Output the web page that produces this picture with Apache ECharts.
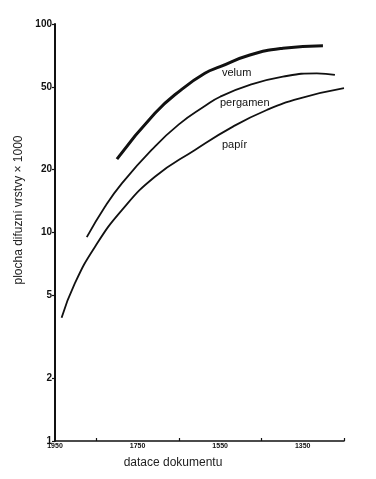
<!DOCTYPE html>
<html>
<head>
<meta charset="utf-8">
<script src="https://cdn.jsdelivr.net/npm/echarts@6/dist/echarts.min.js"></script>
<style>
  html, body { margin: 0; padding: 0; background: #fff; }
  #chart { width: 376px; height: 479px; }
</style>
</head>
<body>
<div id="chart"></div>
<script>
// datace dokumentu (years) and plocha difuzní vrstvy × 1000
const velumYears = [1800, 1708, 1643, 1587, 1550, 1478, 1398, 1301];
const velumValues = [22.5, 37.3, 48.6, 58.0, 62.4, 71.0, 76.5, 78.7];

const pergamenYears = [1873, 1829, 1788, 1716, 1650, 1587, 1550, 1478, 1398, 1316, 1272];
const pergamenValues = [9.5, 13.3, 17.2, 24.9, 33.0, 40.4, 44.8, 51.0, 55.9, 58.0, 57.0];

const papirYears = [1934, 1902, 1853, 1788, 1708, 1611, 1519, 1437, 1357, 1250];
const papirValues = [3.9, 5.7, 8.55, 12.8, 18.5, 24.9, 32.2, 38.7, 44.0, 49.2];

const yTicks = [1, 2, 5, 10, 20, 50, 100];
const xLabels = [1950, 1750, 1550, 1350];
const xTicks = [1850, 1650, 1450, 1250];

const seriesNames = ["velum", "pergamen", "papír"];

function pairs(xs, ys) {
  return xs.map((x, i) => [x, ys[i]]);
}

const chart = echarts.init(document.getElementById("chart"));
chart.setOption({
  animation: false,
  grid: { left: 55, right: 32, top: 24, bottom: 38 },
  xAxis: {
    type: "value",
    min: 1250,
    max: 1950,
    inverse: true,
    axisLine: { show: true, lineStyle: { color: "#111", width: 1.6 } },
    axisTick: { show: true, inside: true, length: 3, customValues: xTicks, lineStyle: { color: "#111", width: 1.2 } },
    axisLabel: {
      customValues: xLabels,
      formatter: (v) => String(v),
      margin: 2,
      fontSize: 7,
      fontWeight: "bold",
      color: "#111",
      fontFamily: "Liberation Sans",
    },
    splitLine: { show: false },
  },
  yAxis: {
    type: "log",
    logBase: 10,
    min: 1,
    max: 100,
    axisLine: { show: true, lineStyle: { color: "#111", width: 2 } },
    axisTick: { show: true, length: 3, customValues: yTicks, lineStyle: { color: "#111", width: 1.2 } },
    axisLabel: {
      customValues: yTicks,
      formatter: (v) => String(v),
      margin: 3,
      fontSize: 10,
      fontWeight: "bold",
      color: "#111",
      fontFamily: "Liberation Sans",
    },
    splitLine: { show: false },
  },
  series: [
    {
      name: seriesNames[0],
      type: "line",
      smooth: 0.5,
      symbol: "none",
      data: pairs(velumYears, velumValues),
      lineStyle: { color: "#111", width: 3 },
    },
    {
      name: seriesNames[1],
      type: "line",
      smooth: 0.5,
      symbol: "none",
      data: pairs(pergamenYears, pergamenValues),
      lineStyle: { color: "#111", width: 1.8 },
    },
    {
      name: seriesNames[2],
      type: "line",
      smooth: 0.5,
      symbol: "none",
      data: pairs(papirYears, papirValues),
      lineStyle: { color: "#111", width: 1.8 },
    },
  ],
  graphic: [
    { type: "text", left: 222, top: 67, style: { text: seriesNames[0], font: "11px 'Liberation Sans'", fill: "#111" } },
    { type: "text", left: 220, top: 97, style: { text: seriesNames[1], font: "11px 'Liberation Sans'", fill: "#111" } },
    { type: "text", left: 222, top: 139, style: { text: seriesNames[2], font: "11px 'Liberation Sans'", fill: "#111" } },
    {
      type: "text",
      x: 19,
      y: 210,
      rotation: Math.PI / 2,
      style: {
        text: "plocha difuzní vrstvy × 1000",
        font: "12px 'Liberation Sans'",
        fill: "#222",
        align: "center",
        verticalAlign: "middle",
      },
    },
    {
      type: "text",
      x: 173,
      y: 463,
      style: {
        text: "datace dokumentu",
        font: "12px 'Liberation Sans'",
        fill: "#222",
        align: "center",
        verticalAlign: "middle",
      },
    },
  ],
});
</script>
</body>
</html>
